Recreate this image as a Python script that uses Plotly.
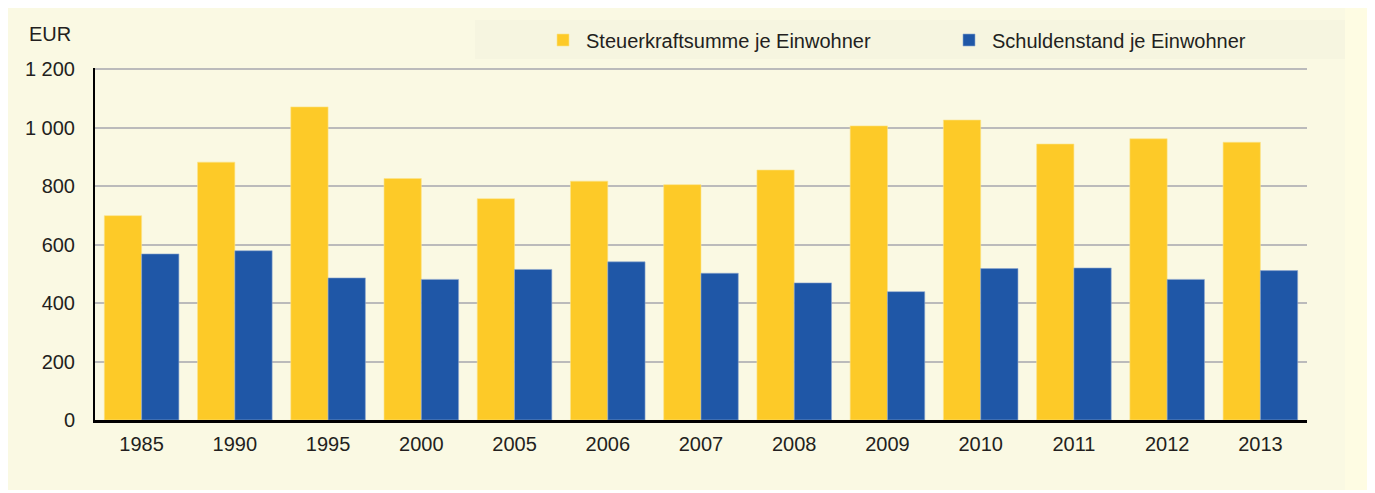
import plotly.graph_objects as go

# values
years = ['1985', '1990', '1995', '2000', '2005', '2006', '2007',
         '2008', '2009', '2010', '2011', '2012', '2013']
steuerkraft = [699, 882, 1071, 826, 757, 817, 805, 855, 1006, 1026, 944, 962, 950]
schulden = [568, 579, 486, 481, 515, 541, 502, 469, 439, 518, 520, 481, 511]

y_ticks = [0, 200, 400, 600, 800, 1000, 1200]
y_labels = ['0', '200', '400', '600', '800', '1 000', '1 200']

# page body has an 8px margin, so work in screen pixels and shift
OFF = 8
W, H = 1375 - OFF, 493 - OFF
L, T = 95 - OFF, 68 - OFF
R, B = W - (1307 - OFF), H - (420 - OFF)


def px_x(p):
    return (p - OFF - L) / (W - L - R)


def px_y(p):
    return (H - B - (p - OFF)) / (H - T - B)


fig = go.Figure()
fig.add_trace(go.Bar(x=years, y=steuerkraft, name='Steuerkraftsumme je Einwohner',
                     marker=dict(color='#FDCA28', line=dict(color='#FBE48A', width=0.6))))
fig.add_trace(go.Bar(x=years, y=schulden, name='Schuldenstand je Einwohner',
                     marker=dict(color='#1F57A7', line=dict(color='#8FA8D0', width=0.6))))

font = dict(family='Liberation Sans, Arial, sans-serif', size=20, color='#231F20')

fig.update_layout(
    width=W, height=H,
    margin=dict(l=L, r=R, t=T, b=B),
    barmode='group', bargap=0.2, bargroupgap=0,
    paper_bgcolor='white', plot_bgcolor='rgba(0,0,0,0)',
    font=font,
    showlegend=True,
    legend=dict(orientation='h', x=px_x(540), y=px_y(40), xanchor='left', yanchor='middle',
                bgcolor='rgba(0,0,0,0)', font=font, itemwidth=36,
                entrywidth=355, traceorder='normal'),
    xaxis=dict(showline=True, linecolor='black', linewidth=3, ticks='',
               tickfont=font, ticklabelstandoff=4),
    yaxis=dict(range=[0, 1204], tickvals=y_ticks, ticktext=y_labels,
               showgrid=True, gridcolor='#BBBBBB', gridwidth=2,
               showline=True, linecolor='black', linewidth=2, zeroline=False,
               ticks='', tickfont=font, ticklabelstandoff=14),
    shapes=[
        dict(type='rect', xref='paper', yref='paper', layer='below',
             x0=px_x(5), x1=px_x(1368), y0=px_y(490), y1=px_y(8),
             fillcolor='#FAF9E3', line=dict(width=0)),
        dict(type='rect', xref='paper', yref='paper', layer='below',
             x0=px_x(1345), x1=px_x(1368), y0=px_y(490), y1=px_y(8),
             fillcolor='#FEFCE3', line=dict(width=0)),
        dict(type='rect', xref='paper', yref='paper', layer='below',
             x0=px_x(475), x1=px_x(1345), y0=px_y(59), y1=px_y(20),
             fillcolor='#F6F5E0', line=dict(width=0)),
    ],
    annotations=[
        dict(text='EUR', xref='paper', yref='paper', x=px_x(27), y=px_y(34),
             xanchor='left', yanchor='middle', showarrow=False, font=font),
    ],
)

fig.write_html('out.html')
